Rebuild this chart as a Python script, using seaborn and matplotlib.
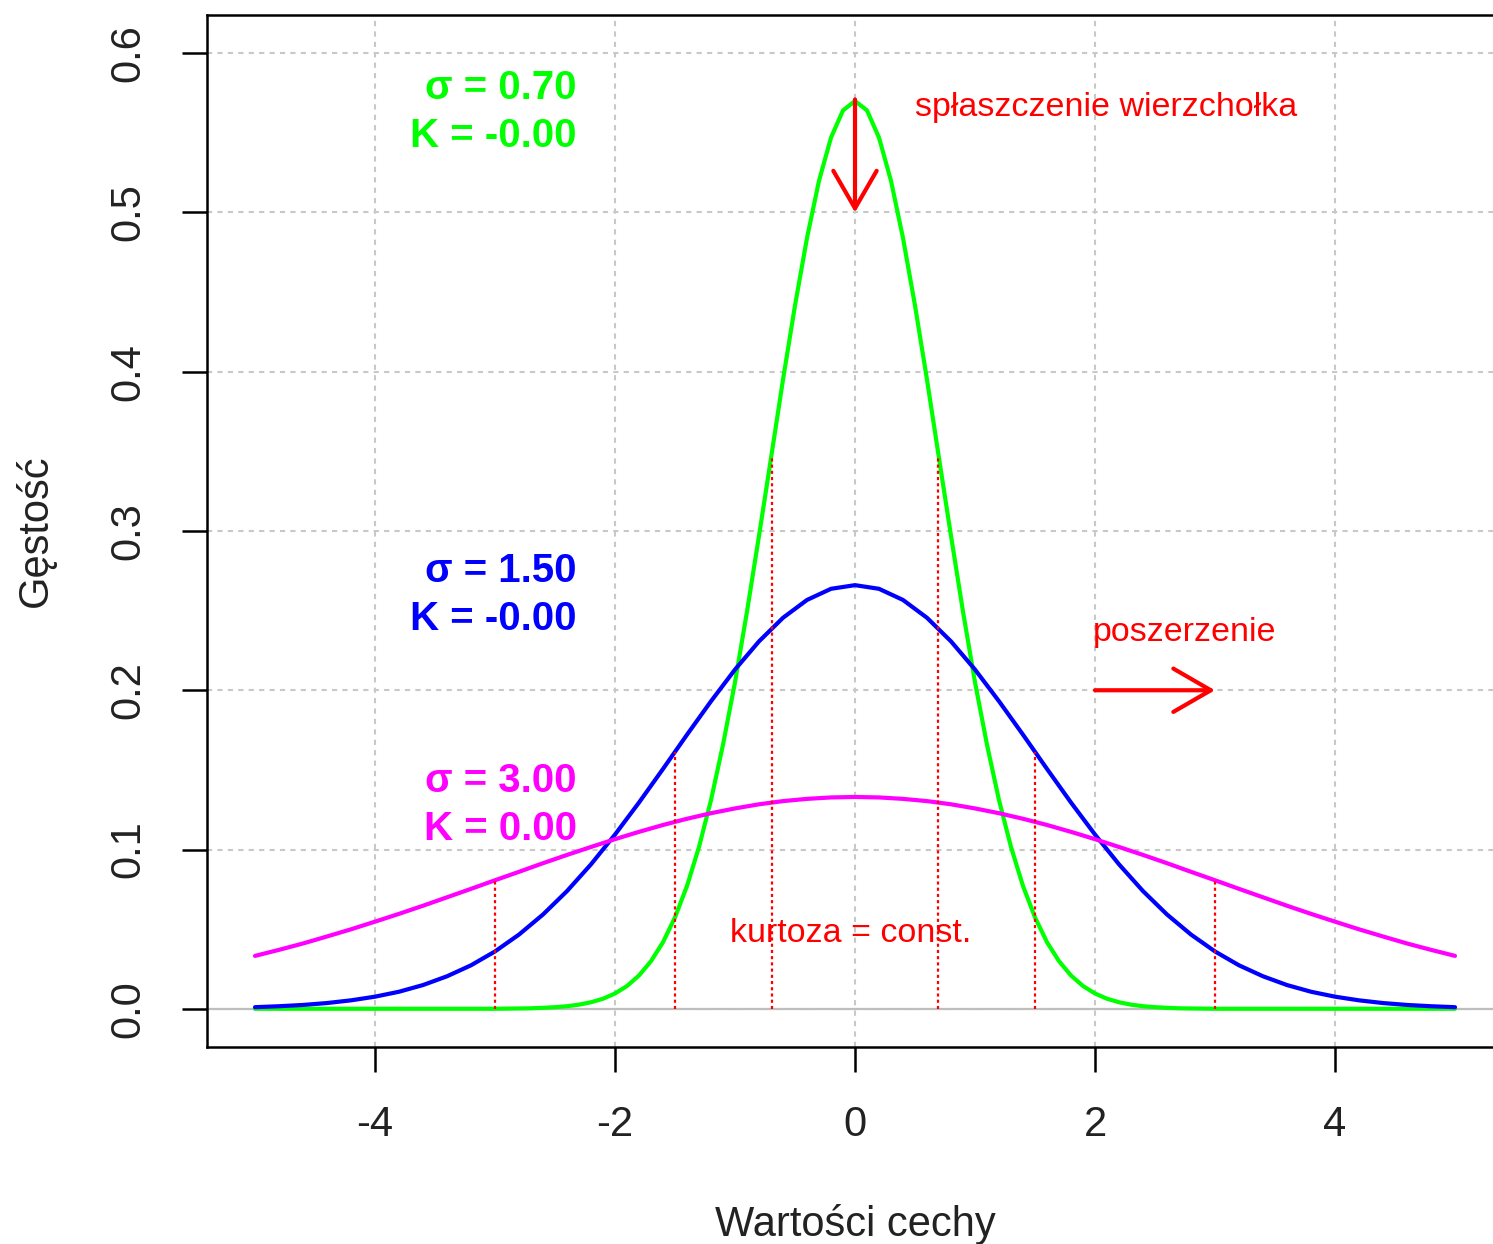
import numpy as np
import pandas as pd
import seaborn as sns
import matplotlib
matplotlib.use("Agg")
import matplotlib.pyplot as plt

# ---------------- data ----------------
x_green = ([-5.0, -4.5, -4.0, -3.5, -3.0]
           + [round(-2.9 + 0.1 * i, 1) for i in range(59)]
           + [3.0, 3.5, 4.0, 4.5, 5.0])
dens_s070 = [0.0000, 0.0000, 0.0000, 0.0000, 0.0000,
             0.0001, 0.0002, 0.0003, 0.0006, 0.0010, 0.0016, 0.0026, 0.0041, 0.0063, 0.0096,
             0.0143, 0.0209, 0.0299, 0.0418, 0.0574, 0.0771, 0.1016, 0.1310, 0.1658, 0.2050,
             0.2494, 0.2970, 0.3457, 0.3950, 0.4416, 0.4840, 0.5199, 0.5470, 0.5641, 0.5700,
             0.5641, 0.5470, 0.5199, 0.4840, 0.4416, 0.3950, 0.3457, 0.2970, 0.2494, 0.2050,
             0.1658, 0.1310, 0.1016, 0.0771, 0.0574, 0.0418, 0.0299, 0.0209, 0.0143, 0.0096,
             0.0063, 0.0041, 0.0026, 0.0016, 0.0010, 0.0006, 0.0003, 0.0002, 0.0001,
             0.0000, 0.0000, 0.0000, 0.0000, 0.0000]

x_wide = [round(-5 + 0.2 * i, 1) for i in range(51)]
dens_s150 = [0.0010, 0.0016, 0.0024, 0.0036, 0.0053, 0.0076, 0.0107, 0.0149, 0.0204, 0.0273,
             0.0360, 0.0466, 0.0592, 0.0739, 0.0907, 0.1094, 0.1295, 0.1506, 0.1721, 0.1931,
             0.2130, 0.2307, 0.2455, 0.2567, 0.2637, 0.2660, 0.2637, 0.2567, 0.2455, 0.2307,
             0.2130, 0.1931, 0.1721, 0.1506, 0.1295, 0.1094, 0.0907, 0.0739, 0.0592, 0.0466,
             0.0360, 0.0273, 0.0204, 0.0149, 0.0107, 0.0076, 0.0053, 0.0036, 0.0024, 0.0016,
             0.0010]
dens_s300 = [0.0332, 0.0370, 0.0410, 0.0454, 0.0499, 0.0547, 0.0596, 0.0647, 0.0700, 0.0753,
             0.0807, 0.0860, 0.0914, 0.0966, 0.1016, 0.1065, 0.1111, 0.1154, 0.1193, 0.1228,
             0.1258, 0.1284, 0.1304, 0.1318, 0.1327, 0.1330, 0.1327, 0.1318, 0.1304, 0.1284,
             0.1258, 0.1228, 0.1193, 0.1154, 0.1111, 0.1065, 0.1016, 0.0966, 0.0914, 0.0860,
             0.0807, 0.0753, 0.0700, 0.0647, 0.0596, 0.0547, 0.0499, 0.0454, 0.0410, 0.0370,
             0.0332]

series_names = ["s070", "s150", "s300"]
series_colors = ["#00FF00", "#0000FF", "#FF00FF"]
sigma_labels = ["σ = 0.70", "σ = 1.50", "σ = 3.00"]
kurt_labels = ["K = -0.00", "K = -0.00", "K = 0.00"]
label_y_sigma = [0.578, 0.275, 0.143]
label_y_kurt = [0.548, 0.245, 0.113]

vline_x = [-3.0, -1.5, -0.69, 0.69, 1.5, 3.0]
vline_top = [0.0807, 0.1613, 0.3457, 0.3457, 0.1613, 0.0807]

x_ticks = [-4, -2, 0, 2, 4]
y_ticks = [0.0, 0.1, 0.2, 0.3, 0.4, 0.5, 0.6]

# ---------------- style ----------------
sns.set_style("ticks")
plt.rcParams["font.family"] = ["Liberation Sans", "DejaVu Sans"]
plt.rcParams["axes.unicode_minus"] = False

W, H = 1493, 1244
fig = plt.figure(figsize=(W / 100, H / 100), dpi=100)
ax = fig.add_axes([207 / W, 1 - 1047 / H, (1503 - 207) / W, (1047 - 15) / H])

ax.set_xlim(-5.4, 5.4)
ax.set_ylim(-0.024, 0.624)

# grid (R grid(): light gray dotted)
for gx in x_ticks:
    ax.axvline(gx, color="#C8C8C8", lw=1.5, ls=(0, (2.5, 2.5)), zorder=0)
for gy in y_ticks:
    ax.axhline(gy, color="#C8C8C8", lw=1.5, ls=(0, (2.5, 2.5)), zorder=0)
ax.axhline(0, color="#BEBEBE", lw=1.6, zorder=1)

df = pd.DataFrame({
    "x": x_green + x_wide + x_wide,
    "y": dens_s070 + dens_s150 + dens_s300,
    "s": ([series_names[0]] * len(x_green) + [series_names[1]] * len(x_wide)
          + [series_names[2]] * len(x_wide)),
})
sns.lineplot(data=df, x="x", y="y", hue="s", palette=series_colors,
             hue_order=series_names, lw=3, legend=False, ax=ax, zorder=3,
             estimator=None, sort=False)

# dotted red verticals at +-sigma
ax.vlines(vline_x, 0, vline_top, colors="#FF0000", lw=1.6,
          linestyles=[(0, (1.4, 1.4))], zorder=4)

# sigma / kurtosis labels
for i in range(3):
    ax.text(-2.32, label_y_sigma[i], sigma_labels[i], color=series_colors[i],
            fontsize=29, fontweight="bold", ha="right", va="center", zorder=5)
    ax.text(-2.32, label_y_kurt[i], kurt_labels[i], color=series_colors[i],
            fontsize=29, fontweight="bold", ha="right", va="center", zorder=5)

# red annotations
ax.text(0.5, 0.566, "spłaszczenie wierzchołka", color="#FF0000", fontsize=24.5,
        ha="left", va="center")
ax.text(1.98, 0.2365, "poszerzenie", color="#FF0000", fontsize=24.5,
        ha="left", va="center")
ax.text(-0.04, 0.0472, "kurtoza = const.", color="#FF0000", fontsize=24.5,
        ha="center", va="center", zorder=5)

arrow_style = dict(arrowstyle="->,head_length=1.35,head_width=0.78",
                   color="#FF0000", lw=3, mutation_scale=20,
                   shrinkA=0, shrinkB=0)
ax.annotate("", xy=(0, 0.5), xytext=(0, 0.571), arrowprops=arrow_style, zorder=6)
ax.annotate("", xy=(3.0, 0.2), xytext=(2.0, 0.2), arrowprops=arrow_style, zorder=6)

# axes, ticks, labels
ax.set_xticks(x_ticks)
ax.set_xticklabels([str(t) for t in x_ticks])
ax.set_yticks(y_ticks)
ax.set_yticklabels([f"{t:.1f}" for t in y_ticks])
ax.tick_params(axis="both", direction="out", length=18, width=1.8,
               labelsize=30, color="black", labelcolor="#222222")
ax.tick_params(axis="x", pad=24)
ax.tick_params(axis="y", pad=24)
for lab in ax.get_yticklabels():
    lab.set_rotation(90)
    lab.set_va("center")
for sp in ax.spines.values():
    sp.set_visible(True)
    sp.set_linewidth(1.8)
    sp.set_color("black")

ax.set_xlabel("Wartości cechy", fontsize=30, color="#222222", labelpad=42)
ax.set_ylabel("Gęstość", fontsize=30, color="#222222", labelpad=38)

fig.savefig("out.png", dpi=100)
